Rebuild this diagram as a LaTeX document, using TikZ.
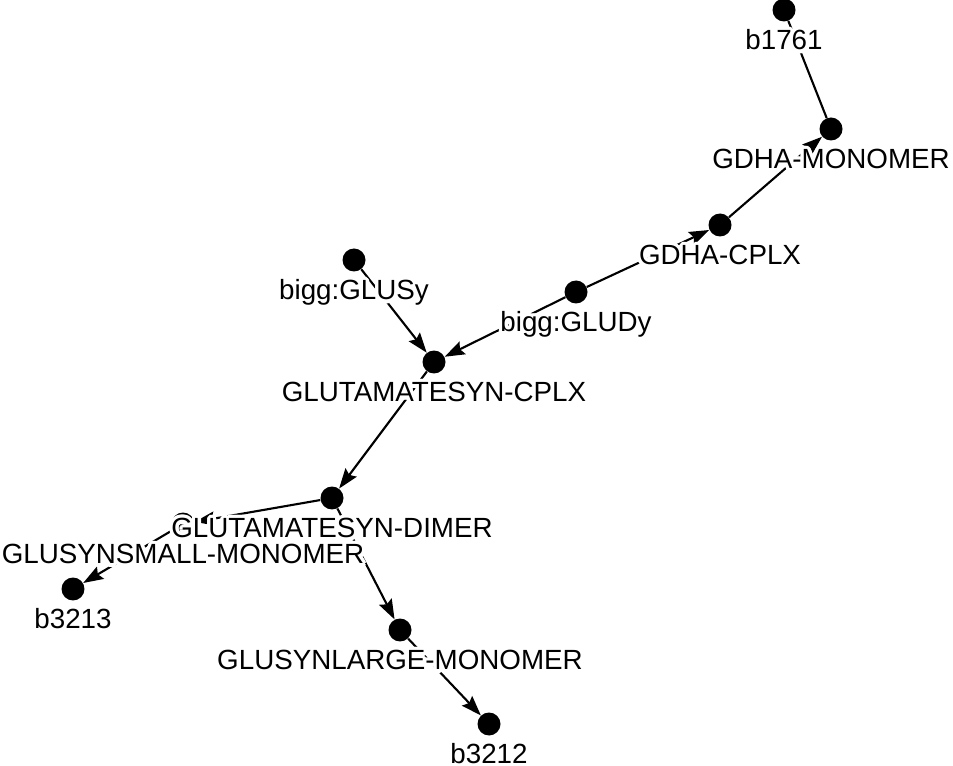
\documentclass[tikz,border=0pt]{standalone}
\usepackage{fontspec}
\setmainfont{Liberation Sans}
\usepackage{contour}
\contourlength{1.9pt}
\usetikzlibrary{arrows.meta}

\begin{document}
\begin{tikzpicture}[x=0.02cm, y=-0.02cm]
	\useasboundingbox (0,0) rectangle (953,766);
	\tikzstyle{dot} = [circle, fill, inner sep=0pt, minimum size=0.46cm]
	\tikzstyle{lbl} = [inner sep=0pt, anchor=base, yshift=-0.8cm, font=\fontsize{15.8}{18}\selectfont]
	\tikzstyle{edge} = [line width=1.2pt]
	\tikzstyle{arr} = [edge, -{Stealth[length=4mm, width=2.8mm, inset=0.6mm]}]
	% dots
	\node[dot] (b1761) at (784,10) {};
	\node[dot] (gdhamono) at (831,129) {};
	\node[dot] (gdhacplx) at (720,225) {};
	\node[dot] (gludy) at (576,292) {};
	\node[dot] (glusy) at (354,260) {};
	\node[dot] (gscplx) at (434,362) {};
	\node[dot] (gsdimer) at (332,498) {};
	\node[dot] (gssmall) at (183,524) {};
	\node[dot] (b3213) at (73,589) {};
	\node[dot] (gslarge) at (400,630) {};
	\node[dot] (b3212) at (489,724) {};
	% connectors
	\draw[edge] (b1761) -- (gdhamono);
	\foreach \a/\b in {gdhacplx/gdhamono, gludy/gdhacplx, gludy/gscplx, glusy/gscplx,
		gscplx/gsdimer, gsdimer/gssmall, gssmall/b3213, gsdimer/gslarge, gslarge/b3212}
		\draw[arr] (\a) -- (\b);
	% labels on top
	\foreach \n/\t in {b1761/b1761, gdhamono/GDHA-MONOMER, gdhacplx/GDHA-CPLX,
		gludy/bigg:GLUDy, glusy/bigg:GLUSy, gscplx/GLUTAMATESYN-CPLX,
		gsdimer/GLUTAMATESYN-DIMER, gssmall/GLUSYNSMALL-MONOMER, b3213/b3213,
		gslarge/GLUSYNLARGE-MONOMER, b3212/b3212}
		\node[lbl] (\n-t) at (\n) {\contour{white}{\t}};
\end{tikzpicture}
\end{document}
